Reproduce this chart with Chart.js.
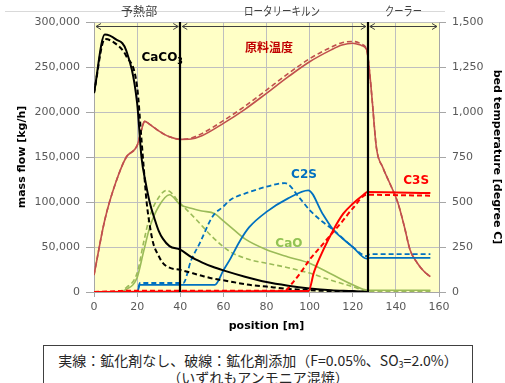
<!DOCTYPE html>
<html>
<head>
<meta charset="utf-8">
<script src="https://cdn.jsdelivr.net/npm/chart.js@4"></script>
<style>
  body { margin: 0; background: #fff; width: 505px; height: 383px; overflow: hidden; position: relative; font-family: "Noto Sans CJK JP", sans-serif; }
  #kiln { position: absolute; left: 0; top: 0; }
  .note { position: absolute; left: 43px; top: 345px; width: 430px; height: 46px; border: 1px solid #404040; box-sizing: border-box; text-align: center; font-size: 14px; line-height: 16.5px; color: #262626; padding-top: 6px; }
  .note sub { font-size: 9px; vertical-align: -2px; line-height: 0; }
</style>
</head>
<body>
<canvas id="kiln" width="505" height="342"></canvas>
<div class="note">実線：鉱化剤なし、破線：鉱化剤添加（F=0.05%、SO<sub>3</sub>=2.0%）<br>（いずれもアンモニア混焼）</div>
<script>
// sections of the plant along the position axis
const sections = ['予熱部', 'ロータリーキルン', 'クーラー'];
const sectionEdges = [0, 40, 127, 160];

const posTicks = [0, 20, 40, 60, 80, 100, 120, 140, 160];
const flowTicks = [0, 50000, 100000, 150000, 200000, 250000, 300000];
const tempTicks = [0, 250, 500, 750, 1000, 1250, 1500];

// CaCO3 [kg/h]
const caco3X = [0, 5, 10, 15, 20, 22, 24, 26, 28, 30, 32, 35, 40, 45, 50, 55, 60, 70, 80, 90, 100, 110, 120, 127];
const caco3Solid = [221000, 286000, 281000, 268000, 210000, 150000, 121000, 98000, 82000, 68000, 59000, 51000, 47000, 39000, 33000, 28000, 24000, 17000, 11000, 7000, 4000, 2000, 1000, 0];
const caco3DashX = [0, 5, 10, 15, 20, 22, 23, 24.4, 26, 27.5, 30, 32, 35, 40, 50, 55, 60, 72, 80, 90, 100, 110, 120, 127];
const caco3Dash = [221000, 281000, 276000, 262000, 228000, 170000, 140000, 100000, 72000, 54000, 40000, 32000, 27000, 24500, 18000, 15000, 13000, 8000, 6000, 3500, 2000, 1000, 500, 0];

// CaO [kg/h]
const caoX = [0, 10, 15, 20, 23, 26, 30, 35, 40, 45, 50, 56, 60, 63, 70, 80, 90, 100, 110, 120, 127, 156];
const caoSolid = [0, 0, 3000, 16000, 45000, 73000, 95000, 108000, 97000, 93000, 90000, 87000, 79000, 73000, 59000, 47000, 39000, 32000, 20000, 8000, 2000, 2000];
const caoDashX = [0, 10, 15, 20, 23, 26, 30, 33.7, 40, 47.6, 55, 63, 72, 80, 90, 100, 110, 120, 127, 156];
const caoDash = [0, 0, 5000, 21000, 55000, 85000, 105000, 113000, 98500, 80000, 61000, 45000, 36000, 32000, 27000, 21000, 13000, 6000, 1000, 1000];

// C2S [kg/h]
const c2sX = [0, 20, 21.3, 56, 60, 63, 68, 72, 80, 90, 99.4, 106, 111, 115, 120, 126.5, 128, 156];
const c2sSolid = [0, 0, 8000, 8000, 24000, 36000, 58000, 72000, 89000, 104000, 113000, 87000, 69000, 60000, 50000, 37000, 38000, 38000];
const c2sDashX = [0, 20, 21.3, 41.4, 45, 49, 55, 60, 63, 72, 80, 88.6, 95.5, 100, 106, 111, 120, 126.5, 128, 156];
const c2sDash = [0, 0, 10000, 10000, 35000, 54000, 84000, 95000, 102000, 111000, 117000, 121000, 104000, 91000, 78000, 69000, 50000, 40000, 42000, 42000];

// C3S [kg/h]
const c3sX = [0, 99.5, 102, 106.4, 111, 115.6, 120, 125, 126.8, 156];
const c3sSolid = [0, 1000, 22000, 47000, 69000, 87000, 98000, 108000, 111000, 110000];
const c3sDashX = [0, 20, 88.5, 92, 96, 100, 105, 110, 115, 120, 126.5, 156];
const c3sDash = [0, 1500, 1500, 10000, 22000, 36000, 50000, 64000, 78000, 93000, 108000, 107000];

// bed temperature [degree C]
const tempX = [0, 5, 10, 15, 20, 22, 23.5, 26, 30, 35, 40, 45, 50, 60, 70, 80, 90, 100, 110, 115, 120, 124, 126.5, 128, 129, 131, 134, 136.5, 141, 144, 146.6, 150, 153, 156];
const tempSolid = [94, 400, 605, 750, 813, 900, 948, 930, 895, 862, 848, 850, 868, 937, 1015, 1104, 1195, 1279, 1345, 1372, 1382, 1370, 1344, 1200, 1067, 800, 690, 622, 493, 360, 233, 160, 115, 85];
const tempDash = [94, 400, 605, 750, 813, 900, 948, 930, 895, 862, 848, 855, 880, 952, 1032, 1122, 1213, 1296, 1360, 1385, 1392, 1378, 1344, 1200, 1067, 800, 690, 622, 493, 360, 233, 160, 115, 85];

const pts = (xs, ys) => xs.map((x, i) => ({ x: x, y: ys[i] }));

function line(label, xs, ys, color, width, dashed, axis) {
  return {
    label: label,
    data: pts(xs, ys),
    borderColor: color,
    borderWidth: width,
    borderDash: dashed ? [5, 3] : [],
    pointRadius: 0,
    fill: false,
    cubicInterpolationMode: 'monotone',
    yAxisID: axis || 'y'
  };
}

const tickFont = { family: 'DejaVu Sans', size: 11 };
const titleFont = { family: 'DejaVu Sans', size: 11, weight: 'bold' };

// yellow plot area, section arrows, kiln boundaries and curve labels
const decor = {
  id: 'decor',
  beforeDraw(chart) {
    const a = chart.chartArea;
    const c = chart.ctx;
    c.save();
    c.fillStyle = '#FFFFC6';
    c.fillRect(a.left, a.top, a.right - a.left, a.bottom - a.top);
    c.restore();
  },
  afterDatasetsDraw(chart) {
    const c = chart.ctx;
    const a = chart.chartArea;
    const x = chart.scales.x;
    const y = chart.scales.y;
    c.save();

    // grey line behind the section names
    c.strokeStyle = '#D9D9D9';
    c.lineWidth = 1;
    c.beginPath();
    c.moveTo(5, 11.5);
    c.lineTo(445, 11.5);
    c.stroke();

    // kiln boundaries
    c.strokeStyle = '#000';
    c.lineWidth = 2.2;
    [sectionEdges[1], sectionEdges[2]].forEach(v => {
      const px = Math.round(x.getPixelForValue(v));
      c.beginPath();
      c.moveTo(px, a.top);
      c.lineTo(px, a.bottom);
      c.stroke();
    });

    // arrows + names
    c.strokeStyle = '#404040';
    c.lineWidth = 1;
    c.font = '12px "Noto Sans CJK JP"';
    c.fillStyle = '#404040';
    c.textAlign = 'center';
    c.textBaseline = 'middle';
    const nameW = [38, 76, 37];
    const nameShift = [2, 8, 0];
    for (let i = 0; i < sections.length; i++) {
      const x0 = x.getPixelForValue(sectionEdges[i]) + 2;
      const x1 = x.getPixelForValue(sectionEdges[i + 1]) - 2;
      const ay = 26.5;
      c.beginPath();
      c.moveTo(x0, ay); c.lineTo(x1, ay);
      c.moveTo(x0 + 5, ay - 3); c.lineTo(x0, ay); c.lineTo(x0 + 5, ay + 3);
      c.moveTo(x1 - 5, ay - 3); c.lineTo(x1, ay); c.lineTo(x1 - 5, ay + 3);
      c.stroke();
      c.fillText(sections[i], (x0 + x1) / 2 + nameShift[i], 11, nameW[i]);
    }

    // curve labels
    c.font = 'bold 12px "DejaVu Sans"';
    c.textAlign = 'left';
    c.fillStyle = '#000';
    const cx = x.getPixelForValue(22);
    const cy = y.getPixelForValue(260000);
    c.fillText('CaCO', cx, cy);
    const w = c.measureText('CaCO').width;
    c.font = 'bold 8px "DejaVu Sans"';
    c.fillText('3', cx + w, cy + 4);

    c.textAlign = 'center';
    c.font = 'bold 12px "Noto Sans CJK JP"';
    c.fillStyle = '#C00000';
    c.fillText('原料温度', x.getPixelForValue(81.2), y.getPixelForValue(272000));

    c.font = 'bold 12px "DejaVu Sans"';
    c.fillStyle = '#0070C0';
    c.fillText('C2S', x.getPixelForValue(97.4), y.getPixelForValue(130000));
    c.fillStyle = '#92C353';
    c.fillText('CaO', x.getPixelForValue(90.4), y.getPixelForValue(54000));
    c.fillStyle = '#FF0000';
    c.fillText('C3S', x.getPixelForValue(149.4), y.getPixelForValue(124000));
    c.restore();
  }
};

new Chart(document.getElementById('kiln'), {
  type: 'line',
  data: {
    datasets: [
      line('C3S', c3sX, c3sSolid, '#FF0000', 2, false),
      line('C3S (添加)', c3sDashX, c3sDash, '#FF0000', 2, true),
      line('CaCO3', caco3X, caco3Solid, '#000000', 2, false),
      line('CaCO3 (添加)', caco3DashX, caco3Dash, '#000000', 2, true),
      line('C2S', c2sX, c2sSolid, '#0070C0', 1.8, false),
      line('C2S (添加)', c2sDashX, c2sDash, '#0070C0', 1.8, true),
      line('CaO', caoX, caoSolid, '#9BBB59', 1.6, false),
      line('CaO (添加)', caoDashX, caoDash, '#9BBB59', 1.6, true),
      line('原料温度', tempX, tempSolid, '#C0504D', 1.6, false, 'y2'),
      line('原料温度 (添加)', tempX, tempDash, '#C0504D', 1.6, true, 'y2')
    ]
  },
  options: {
    responsive: false,
    animation: false,
    layout: { padding: { top: 22, left: 0, right: 0, bottom: 0 } },
    plugins: {
      legend: { display: false },
      tooltip: { enabled: false }
    },
    scales: {
      x: {
        type: 'linear',
        min: 0,
        max: 160,
        afterBuildTicks: s => { s.ticks = posTicks.map(v => ({ value: v })); },
        afterFit: s => { s.height = 50; },
        grid: { color: '#BFBFBF', tickColor: '#A6A6A6', tickLength: 5 },
        border: { color: '#A6A6A6' },
        ticks: { font: tickFont, color: '#595959', padding: 4, maxRotation: 0 },
        title: { display: true, text: 'position [m]', font: titleFont, color: '#000', padding: { top: 0, bottom: 9 } }
      },
      y: {
        position: 'left',
        min: 0,
        max: 300000,
        afterBuildTicks: s => { s.ticks = flowTicks.map(v => ({ value: v })); },
        afterFit: s => { s.width = 94; },
        grid: { color: '#BFBFBF', tickColor: '#A6A6A6', tickLength: 8 },
        border: { color: '#A6A6A6' },
        ticks: { font: tickFont, color: '#595959', padding: 6, callback: v => v.toLocaleString('en-US') },
        title: { display: true, text: 'mass flow [kg/h]', font: titleFont, color: '#000', padding: { top: 16, bottom: 0 } }
      },
      y2: {
        position: 'right',
        min: 0,
        max: 1500,
        afterBuildTicks: s => { s.ticks = tempTicks.map(v => ({ value: v })); },
        afterFit: s => { s.width = 66; },
        grid: { drawOnChartArea: false, tickColor: '#A6A6A6', tickLength: 7 },
        border: { color: '#A6A6A6' },
        ticks: { font: tickFont, color: '#595959', padding: 6, callback: v => v.toLocaleString('en-US') },
        title: { display: true, text: 'bed temperature [degree C]', font: titleFont, color: '#000', padding: { top: 2, bottom: 0 } }
      }
    }
  },
  plugins: [decor]
});
</script>
</body>
</html>
